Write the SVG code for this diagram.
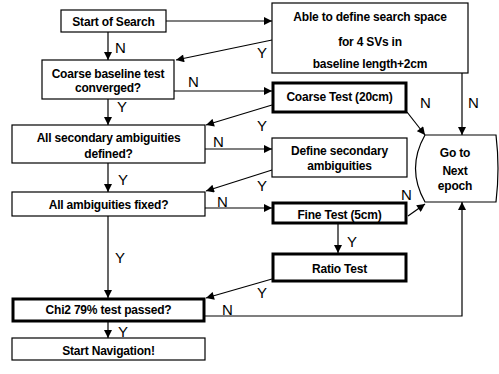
<svg xmlns="http://www.w3.org/2000/svg" width="499" height="374" viewBox="0 0 499 374">
<defs>
<marker id="ah" viewBox="0 0 10 10" refX="10" refY="5" markerWidth="9" markerHeight="8" markerUnits="userSpaceOnUse" orient="auto">
<path d="M0,0 L10,5 L0,10 Z" fill="#000"/>
</marker>
<style>
.box{fill:#fff;stroke:#000;stroke-width:1.2}
.thick{fill:#fff;stroke:#000;stroke-width:3}
.t{font-family:"Liberation Sans",Arial,sans-serif;font-weight:bold;font-size:12px;text-anchor:middle;fill:#000;letter-spacing:-0.2px}
.l{font-family:"Liberation Sans",Arial,sans-serif;font-size:15px;fill:#000}
.c{fill:none;stroke:#000;stroke-width:1.2}
.a{marker-end:url(#ah)}
</style>
</defs>
<rect width="499" height="374" fill="#fff"/>
<g id="connectors">
<line class="c a" x1="166" y1="21" x2="272" y2="21"/>
<line class="c a" x1="108" y1="32" x2="108" y2="60"/>
<line class="c a" x1="272" y1="40" x2="176" y2="60"/>
<line class="c a" x1="174" y1="91" x2="272" y2="91"/>
<line class="c a" x1="108" y1="99" x2="108" y2="125"/>
<line class="c a" x1="272" y1="105" x2="206" y2="125"/>
<line class="c a" x1="407" y1="112" x2="425" y2="135"/>
<line class="c a" x1="462" y1="73" x2="462" y2="135"/>
<line class="c a" x1="205" y1="149" x2="272" y2="149"/>
<line class="c a" x1="108" y1="163" x2="108" y2="192"/>
<line class="c a" x1="272" y1="170" x2="206" y2="191"/>
<line class="c a" x1="205" y1="208" x2="272" y2="208"/>
<line class="c a" x1="408" y1="216" x2="425" y2="204"/>
<line class="c a" x1="338" y1="223" x2="338" y2="253"/>
<line class="c a" x1="272" y1="279" x2="206" y2="298"/>
<line class="c a" x1="108" y1="216" x2="108" y2="298"/>
<polyline class="c a" points="205,316 462,316 462,202"/>
<line class="c a" x1="108" y1="321" x2="108" y2="338"/>
<text class="l" x="115" y="53">N</text>
<text class="l" x="117" y="112">Y</text>
<text class="l" x="188" y="87">N</text>
<text class="l" x="257" y="58">Y</text>
<text class="l" x="420" y="108">N</text>
<text class="l" x="468" y="108">N</text>
<text class="l" x="257" y="131">Y</text>
<text class="l" x="213" y="147">N</text>
<text class="l" x="118" y="185">Y</text>
<text class="l" x="257" y="191">Y</text>
<text class="l" x="217" y="207">N</text>
<text class="l" x="401" y="200">N</text>
<text class="l" x="347" y="247">Y</text>
<text class="l" x="115" y="263">Y</text>
<text class="l" x="257" y="298">Y</text>
<text class="l" x="222" y="315">N</text>
<text class="l" x="118" y="337">Y</text>
</g>
<g id="start">
<rect class="box" x="61" y="10" width="105" height="22"/>
<text class="t" x="113.5" y="25.5">Start of Search</text>
</g>
<g id="able">
<rect class="box" x="272" y="3" width="196" height="70"/>
<text class="t" x="370" y="21">Able to define search space</text>
<text class="t" x="370" y="46">for 4 SVs in</text>
<text class="t" x="370" y="68">baseline length+2cm</text>
</g>
<g id="coarse-baseline">
<rect class="box" x="42" y="60" width="132" height="39"/>
<text class="t" x="108" y="78">Coarse baseline test</text>
<text class="t" x="108" y="92">converged?</text>
</g>
<g id="coarse-test">
<rect class="thick" x="273" y="83" width="133" height="29"/>
<text class="t" x="339.5" y="101">Coarse Test (20cm)</text>
</g>
<g id="all-secondary">
<rect class="box" x="12" y="125" width="193" height="38"/>
<text class="t" x="108.5" y="142">All secondary ambiguities</text>
<text class="t" x="108.5" y="158">defined?</text>
</g>
<g id="define-secondary">
<rect class="box" x="272" y="138" width="135" height="39"/>
<text class="t" x="339.5" y="155">Define secondary</text>
<text class="t" x="339.5" y="170">ambiguities</text>
</g>
<g id="go-next">
<path class="box" d="M425,135 L496,135 Q500,168.5 496,202 L425,202 Q406,168.5 425,135 Z"/>
<text class="t" x="455" y="157">Go to</text>
<text class="t" x="455" y="175">Next</text>
<text class="t" x="455" y="190">epoch</text>
</g>
<g id="all-fixed">
<rect class="box" x="12" y="192" width="193" height="24"/>
<text class="t" x="108.5" y="209">All ambiguities fixed?</text>
</g>
<g id="fine-test">
<rect class="thick" x="273" y="203" width="133" height="20"/>
<text class="t" x="339.5" y="219">Fine Test (5cm)</text>
</g>
<g id="ratio-test">
<rect class="thick" x="273" y="254" width="133" height="27"/>
<text class="t" x="339.5" y="273">Ratio Test</text>
</g>
<g id="chi2">
<rect class="thick" x="13" y="299" width="191" height="22"/>
<text class="t" x="108.5" y="314">Chi2 79% test passed?</text>
</g>
<g id="start-nav">
<rect class="box" x="12" y="338" width="193" height="22"/>
<text class="t" x="108.5" y="355">Start Navigation!</text>
</g>
</svg>
